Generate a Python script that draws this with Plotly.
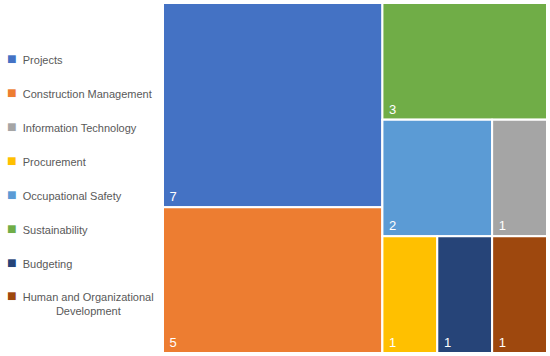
import plotly.graph_objects as go

labels = ["Projects", "Construction Management", "Information Technology", "Procurement",
          "Occupational Safety", "Sustainability", "Budgeting", "Human and Organizational Development"]
legend_names = ["Projects", "Construction Management", "Information Technology", "Procurement",
                "Occupational Safety", "Sustainability", "Budgeting",
                "Human and Organizational<br>" + "\u00a0" * 16 + "Development"]
values = [7, 5, 1, 1, 2, 3, 1, 1]
colors = ["#4472C4", "#ED7D31", "#A5A5A5", "#FFC000", "#5B9BD5", "#70AD47", "#264478", "#9E480E"]

val = dict(zip(labels, values))
col = dict(zip(labels, colors))

# invisible grouping nodes only used to reproduce the block arrangement
groups = [("A", ["Projects", "Construction Management"]),
          ("B", ["Sustainability", ("B2", ["Occupational Safety", "Information Technology"]),
                 ("B3", ["Procurement", "Budgeting", "Human and Organizational Development"])])]

ids, lab, par, vals, cols, texts = [], [], [], [], [], []


def add_group(gid, parent, members):
    total = 0
    for m in members:
        total += val[m] if isinstance(m, str) else sum(val[x] for x in m[1])
    ids.append(gid); lab.append(""); par.append(parent)
    vals.append(total); cols.append("rgba(0,0,0,0)"); texts.append("")
    for m in members:
        if isinstance(m, str):
            ids.append(m); lab.append(m); par.append(gid); vals.append(val[m])
            cols.append(col[m]); texts.append("\u00a0" + str(val[m]))
        else:
            add_group(m[0], gid, m[1])


for gid, members in groups:
    add_group(gid, "", members)

W, H = 550, 356
fig = go.Figure()
fig.add_trace(go.Treemap(
    ids=ids, labels=lab, parents=par, values=vals, text=texts,
    branchvalues="total",
    marker=dict(colors=cols, line=dict(color="white", width=2), pad=dict(t=0, l=0, r=0, b=0)),
    texttemplate="%{text}",
    textposition="bottom left",
    textfont=dict(color="white", size=13, family="Liberation Sans"),
    tiling=dict(packing="slice-dice", pad=0),
    pathbar=dict(visible=False),
    sort=False,
    maxdepth=-1,
    domain=dict(x=[163 / W, 547 / W], y=[3 / H, 1 - 3 / H]),
    hoverinfo="label+value",
))

for name, c in zip(legend_names, colors):
    fig.add_trace(go.Scatter(
        x=[None], y=[None], mode="none", legendgroup=name,
        name="<span style='color:%s;font-size:16px'>\u25A0</span>\u00a0\u00a0%s" % (c, name),
    ))

fig.update_layout(
    width=W, height=H,
    margin=dict(l=0, r=0, t=0, b=0, autoexpand=False),
    paper_bgcolor="white", plot_bgcolor="white",
    xaxis=dict(visible=False, domain=[0, 0.05]),
    yaxis=dict(visible=False),
    showlegend=True,
    legend=dict(
        x=-33 / W, y=1 - 45 / H, xanchor="left", yanchor="top",
        font=dict(family="Liberation Sans", size=11, color="#595959"),
        tracegroupgap=15, itemwidth=30, bgcolor="rgba(0,0,0,0)",
    ),
)

fig.write_html("out.html", config={"displayModeBar": False},
               post_script="document.body.style.margin='0';document.body.style.overflow='hidden';")
